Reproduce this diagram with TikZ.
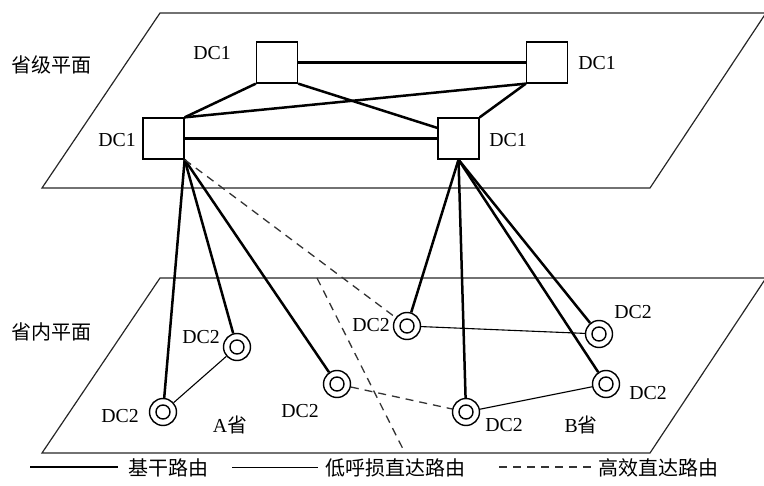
\documentclass[tikz,border=0pt]{standalone}
\usepackage{fontspec}
\setmainfont{Liberation Serif}
\newfontfamily\cjk{Noto Sans CJK SC}
\usetikzlibrary{calc}

\begin{document}
\begin{tikzpicture}[x=1pt,y=-1pt,
  plane/.style={draw=black!85, line width=1.2pt},
  dcone/.style={draw, rectangle, minimum size=41pt, inner sep=0pt, line width=1.3pt},
  dctwo/.style={draw, circle, minimum size=27pt, inner sep=0pt, line width=1.4pt,
    path picture={\draw[line width=1.4pt] (path picture bounding box.center) circle (7pt);}},
  lbl/.style={font=\fontsize{19.8}{20}\selectfont, inner sep=0pt},
  zh/.style={font=\cjk\fontsize{20}{20}\selectfont, inner sep=0pt},
  trunk/.style={line width=2.5pt},
  direct/.style={line width=1.1pt},
  fast/.style={draw=black!80, line width=1.3pt, dash pattern=on 8pt off 6pt},
]
\useasboundingbox (0,0) rectangle (764,486);

% provincial plane (upper) and intra-province plane (lower)
\draw[plane] (42,188) -- (650,188) -- (766,13) -- (160,13) -- cycle;
\draw[plane] (42,453) -- (650,453) -- (766,278) -- (160,278) -- cycle;
\node[zh] (pl1) at (52,65) {省级平面};
\node[zh] (pl2) at (52,332) {省内平面};

% DC1 nodes
\node[dcone] (tl) at (277,62.5) {};
\node[dcone] (tr) at (547,62.5) {};
\node[dcone] (ll) at (163.5,138.5) {};
\node[dcone] (lr) at (458.5,138.5) {};
\node[lbl] (ltl) at (212,53) {DC1};
\node[lbl] (ltr) at (597,63) {DC1};
\node[lbl] (lll) at (117,140) {DC1};
\node[lbl] (llr) at (508,140) {DC1};

% DC2 nodes
\node[dctwo] (a1) at (237,347) {};
\node[dctwo] (a2) at (163,412) {};
\node[dctwo] (a3) at (337,384) {};
\node[dctwo] (b1) at (407,326) {};
\node[dctwo] (b2) at (466,412) {};
\node[dctwo] (b3) at (599,334) {};
\node[dctwo] (b4) at (606,384) {};
\node[lbl] (la1) at (201,337) {DC2};
\node[lbl] (la2) at (120,416) {DC2};
\node[lbl] (la3) at (300,411) {DC2};
\node[lbl] (lb1) at (371,325) {DC2};
\node[lbl] (lb2) at (504,425) {DC2};
\node[lbl] (lb3) at (633,312) {DC2};
\node[lbl] (lb4) at (648,393) {DC2};
\node[lbl] (pa) at (230,425) {A\cjk 省};
\node[lbl] (pb) at (581,425) {B\cjk 省};

% trunk routes between DC1
\draw[trunk] (tl.east) -- (tr.west);
\draw[trunk] (ll.east) -- (lr.west);
\draw[trunk] (tl.south west) -- (ll.north east);
\draw[trunk] (tr.south west) -- (ll.north east);
\draw[trunk] (tr.south west) -- (lr.north east);
\draw[trunk] (tl.south east) -- ($(lr.north west)!0.25!(lr.south west)$);

% trunk routes DC1 -> DC2
\draw[trunk] (ll.south east) -- (a2);
\draw[trunk] (ll.south east) -- (a1);
\draw[trunk] (ll.south east) -- (a3);
\draw[trunk] (lr.south) -- (b1);
\draw[trunk] (lr.south) -- (b2);
\draw[trunk] (lr.south) -- (b3);
\draw[trunk] (lr.south) -- (b4);

% low-loss direct routes
\draw[direct] (a2) -- (a1);
\draw[direct] (b1) -- (b3);
\draw[direct] (b2) -- (b4);

% efficient direct routes
\draw[fast] (ll.south east) -- (b1);
\draw[fast] (a3) -- (b2);

% boundary between province A and province B
\coordinate (d1) at (317,278);
\coordinate (d2) at (405,453);
\draw[fast] (d1) -- (d2);

% legend
\coordinate (k1) at (30,467);
\coordinate (k2) at (118,467);
\coordinate (k3) at (232,467.5);
\coordinate (k4) at (318,467.5);
\coordinate (k5) at (499,467);
\coordinate (k6) at (591,467);
\draw[trunk] (k1) -- (k2);
\draw[direct] (k3) -- (k4);
\draw[fast] (k5) -- (k6);
\node[zh, anchor=west] (t1) at (128,468) {基干路由};
\node[zh, anchor=west] (t2) at (325,468) {低呼损直达路由};
\node[zh, anchor=west] (t3) at (598,468) {高效直达路由};
\end{tikzpicture}
\end{document}
